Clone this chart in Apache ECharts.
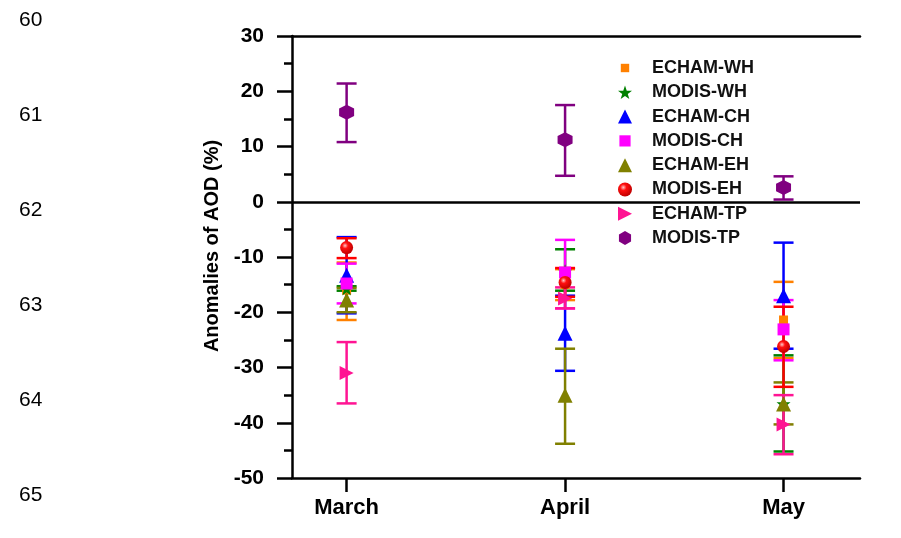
<!DOCTYPE html>
<html>
<head>
<meta charset="utf-8">
<script src="https://cdn.jsdelivr.net/npm/echarts@6/dist/echarts.min.js"></script>
<style>html,body{margin:0;padding:0;background:#fff;}#c{width:901px;height:538px;}</style>
</head>
<body>
<div id="c"></div>
<script>
// ---- data ----
const months = ['March', 'April', 'May'];
const xPos = [1, 2, 3];
const yTicks = [-50, -40, -30, -20, -10, 0, 10, 20, 30];
const lineNumbers = ['60', '61', '62', '63', '64', '65'];
const yAxisTitle = 'Anomalies of AOD (%)';
const seriesNames = ['ECHAM-WH', 'MODIS-WH', 'ECHAM-CH', 'MODIS-CH', 'ECHAM-EH', 'MODIS-EH', 'ECHAM-TP', 'MODIS-TP'];

const echamWH_mean = [-16, -15, -21.4];
const echamWH_low  = [-21.4, -17.8, -28.3];
const echamWH_high = [-11, -12.2, -14.5];

const modisWH_mean = [-15.7, -12.6, -36.6];
const modisWH_low  = [-16.1, -16.1, -45.2];
const modisWH_high = [-15.3, -8.6, -27.8];

const echamCH_mean = [-13.3, -23.8, -17];
const echamCH_low  = [-20.2, -30.6, -26.6];
const echamCH_high = [-6.4, -17, -7.4];

const modisCH_mean = [-14.8, -12.8, -23.1];
const modisCH_low  = [-18.4, -19.3, -28.7];
const modisCH_high = [-11.2, -6.9, -17.8];

const echamEH_mean = [-17.8, -35, -36.6];
const echamEH_low  = [-20, -43.8, -40.3];
const echamEH_high = [-15.6, -26.6, -32.7];

const modisEH_mean = [-8.3, -14.6, -26.2];
const modisEH_low  = [-10.2, -17.2, -33.5];
const modisEH_high = [-6.6, -12, -19];

const echamTP_mean = [-31, -17.5, -40.3];
const echamTP_low  = [-36.5, -19.3, -45.7];
const echamTP_high = [-25.4, -15.5, -35];

const modisTP_mean = [16.2, 11.2, 2.6];
const modisTP_low  = [10.8, 4.7, 0.4];
const modisTP_high = [21.4, 17.5, 4.6];

// ---- styles ----
const STAR = 'path://M50,0 L61.8,35.1 L97.6,35.1 L68.8,56.8 L79.4,91 L50,70 L20.6,91 L31.2,56.8 L2.4,35.1 L38.2,35.1 Z';
const HEX = 'path://M50,0 L93.3,25 L93.3,75 L50,100 L6.7,75 L6.7,25 Z';
const RTRI = 'path://M0,0 L100,50 L0,100 Z';
const SMALLSQ = 'path://M0,0 M100,100 M20,20 L80,20 L80,80 L20,80 Z';
const MIDSQ = 'path://M0,0 M100,100 M10,10 L90,10 L90,90 L10,90 Z';
const redBall = {type: 'radial', x: 0.38, y: 0.35, r: 0.65, colorStops: [
  {offset: 0, color: '#ffc8c8'}, {offset: 0.35, color: '#ff1010'}, {offset: 1, color: '#c00000'}]};

const defs = [
  {name: seriesNames[0], mean: echamWH_mean, low: echamWH_low, high: echamWH_high, color: '#ff8000', symbol: 'rect', icon: SMALLSQ, size: 9},
  {name: seriesNames[1], mean: modisWH_mean, low: modisWH_low, high: modisWH_high, color: '#008000', symbol: STAR, icon: STAR, size: 14},
  {name: seriesNames[2], mean: echamCH_mean, low: echamCH_low, high: echamCH_high, color: '#0000ff', symbol: 'triangle', icon: 'triangle', size: 15},
  {name: seriesNames[3], mean: modisCH_mean, low: modisCH_low, high: modisCH_high, color: '#ff00ff', symbol: 'rect', icon: MIDSQ, size: 12},
  {name: seriesNames[4], mean: echamEH_mean, low: echamEH_low, high: echamEH_high, color: '#808000', symbol: 'triangle', icon: 'triangle', size: 15},
  {name: seriesNames[5], mean: modisEH_mean, low: modisEH_low, high: modisEH_high, color: '#ff0000', fill: redBall, symbol: 'circle', icon: 'circle', size: 13},
  {name: seriesNames[6], mean: echamTP_mean, low: echamTP_low, high: echamTP_high, color: '#ff1493', symbol: RTRI, icon: RTRI, size: 14},
  {name: seriesNames[7], mean: modisTP_mean, low: modisTP_low, high: modisTP_high, color: '#800080', symbol: HEX, icon: HEX, size: 15}
];

const series = [];
defs.forEach(function (d) {
  series.push({
    type: 'custom',
    name: d.name + ' error',
    z: 2,
    silent: true,
    data: xPos.map(function (x, i) { return [x, d.low[i], d.high[i]]; }),
    encode: {x: 0, y: [1, 2]},
    renderItem: function (params, api) {
      const x = api.value(0);
      const p1 = api.coord([x, api.value(1)]);
      const p2 = api.coord([x, api.value(2)]);
      const hw = 10;
      const st = {stroke: d.color, lineWidth: 2.5, fill: null};
      return {type: 'group', children: [
        {type: 'line', shape: {x1: p1[0], y1: p1[1], x2: p2[0], y2: p2[1]}, style: st},
        {type: 'line', shape: {x1: p1[0] - hw, y1: p1[1], x2: p1[0] + hw, y2: p1[1]}, style: st},
        {type: 'line', shape: {x1: p2[0] - hw, y1: p2[1], x2: p2[0] + hw, y2: p2[1]}, style: st}
      ]};
    }
  });
});
defs.forEach(function (d, k) {
  const s = {
    type: 'scatter',
    name: d.name,
    z: 3,
    symbol: d.symbol,
    symbolSize: d.size,
    itemStyle: {color: d.fill || d.color, opacity: 1},
    data: xPos.map(function (x, i) { return [x, d.mean[i]]; })
  };
  if (k === 0) {
    s.markLine = {
      silent: true, symbol: 'none', label: {show: false},
      lineStyle: {color: '#000', width: 2.5, type: 'solid'},
      data: [{yAxis: 0}]
    };
  }
  series.push(s);
});

const graphics = lineNumbers.map(function (t, i) {
  return {type: 'text', left: 19, top: 10 + i * 95,
    style: {text: t, fill: '#000', fontSize: 21, fontFamily: 'Liberation Sans'}};
});
graphics.push({
  type: 'text', x: 212, y: 246, rotation: Math.PI / 2,
  style: {text: yAxisTitle, fill: '#000', fontSize: 20, fontWeight: 'bold', fontFamily: 'Liberation Sans',
    align: 'center', verticalAlign: 'middle'}
});

const chart = echarts.init(document.getElementById('c'), null, {renderer: 'canvas'});
chart.setOption({
  animation: false,
  backgroundColor: '#ffffff',
  grid: {left: 292, top: 36, right: 41, bottom: 60, containLabel: false},
  xAxis: [{
    type: 'value', min: 0.75, max: 3.35,
    axisLine: {show: true, onZero: false, lineStyle: {color: '#000', width: 2.5}},
    axisTick: {show: true, customValues: xPos, length: 14, lineStyle: {color: '#000', width: 2.5}},
    axisLabel: {customValues: xPos, margin: 19, color: '#000', fontSize: 22, fontWeight: 'bold', fontFamily: 'Liberation Sans',
      formatter: function (v) { return months[Math.round(v) - 1] || ''; }},
    splitLine: {show: false}
  }, {
    type: 'value', position: 'top', min: 0.75, max: 3.35,
    axisLine: {show: true, onZero: false, lineStyle: {color: '#000', width: 2.5}},
    axisTick: {show: false}, axisLabel: {show: false}, splitLine: {show: false}
  }],
  yAxis: {
    type: 'value', min: -50, max: 30, interval: 10,
    axisLine: {show: true, onZero: false, lineStyle: {color: '#000', width: 2.5}},
    axisTick: {show: true, length: 15, lineStyle: {color: '#000', width: 2.5}},
    minorTick: {show: true, splitNumber: 2, length: 8, lineStyle: {color: '#000', width: 2.5}},
    axisLabel: {margin: 28, color: '#000', fontSize: 21, fontWeight: 'bold', fontFamily: 'Liberation Sans',
      customValues: yTicks},
    splitLine: {show: false}
  },
  legend: {
    orient: 'vertical', left: 613, top: 54,
    itemWidth: 14, itemHeight: 14, itemGap: 6.3,
    data: defs.map(function (d) { return {name: d.name, icon: d.icon}; }),
    textStyle: {color: '#111', fontSize: 18, fontWeight: 'bold', fontFamily: 'Liberation Sans', lineHeight: 14, padding: [0, 0, 0, 15]}
  },
  graphic: graphics,
  series: series
});
</script>
</body>
</html>
